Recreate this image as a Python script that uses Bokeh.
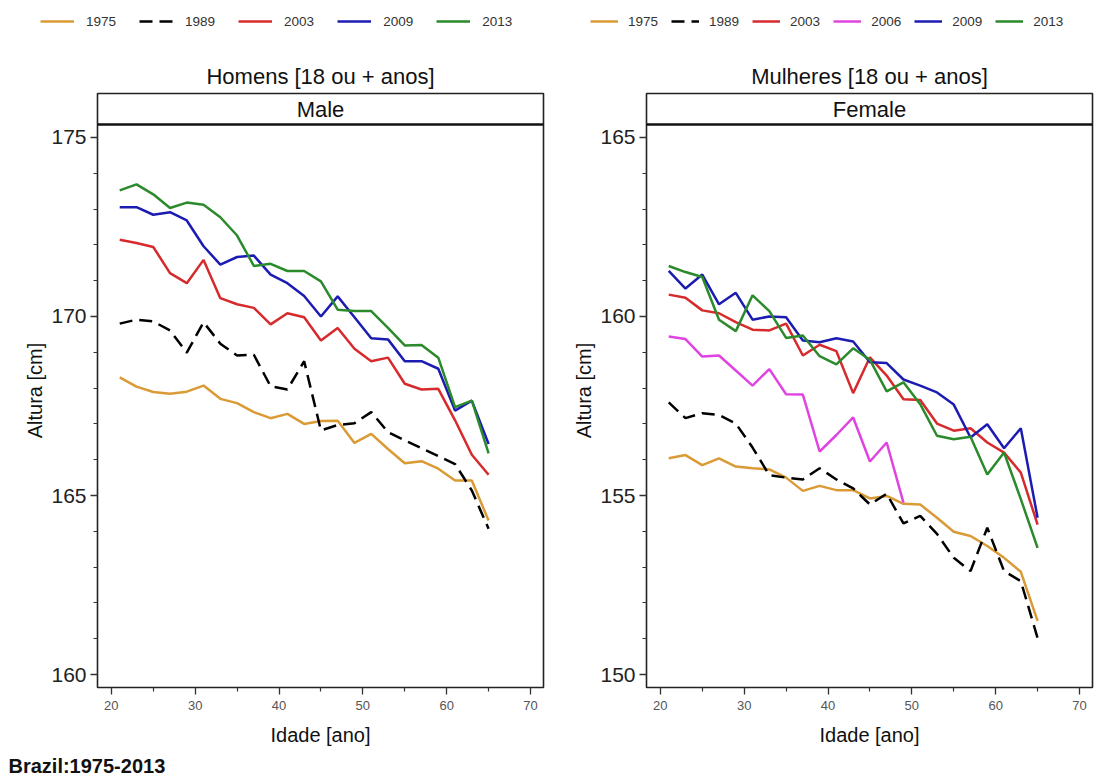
from bokeh.plotting import figure
from bokeh.models import Range1d, FixedTicker, Legend, LegendItem, Label, Span
from bokeh.layouts import row, column
from bokeh.embed import file_html
from bokeh.resources import INLINE

ages = [21, 23, 25, 27, 29, 31, 33, 35, 37, 39, 41, 43, 45, 47, 49, 51, 53, 55, 57, 59, 61, 63, 65]
ages_2006 = [21, 23, 25, 27, 29, 31, 33, 35, 37, 39, 41, 43, 45, 47, 49]

male_1975 = [168.30, 168.04, 167.89, 167.84, 167.90, 168.07, 167.70, 167.58, 167.33, 167.16, 167.28, 167.00,
             167.08, 167.09, 166.47, 166.72, 166.30, 165.90, 165.96, 165.75, 165.42, 165.42, 164.30]
male_1989 = [169.80, 169.91, 169.86, 169.61, 168.99, 169.84, 169.24, 168.91, 168.93, 168.05, 167.96, 168.75,
             166.82, 166.97, 167.02, 167.33, 166.77, 166.54, 166.32, 166.10, 165.88, 165.14, 164.07]
male_2003 = [172.14, 172.05, 171.94, 171.21, 170.93, 171.58, 170.51, 170.34, 170.24, 169.78, 170.09, 169.98,
             169.33, 169.68, 169.10, 168.75, 168.85, 168.12, 167.96, 167.98, 167.10, 166.14, 165.58]
male_2009 = [173.05, 173.05, 172.84, 172.91, 172.68, 171.96, 171.45, 171.66, 171.70, 171.17, 170.93, 170.57,
             170.00, 170.56, 169.98, 169.39, 169.36, 168.75, 168.75, 168.54, 167.37, 167.65, 166.44]
male_2013 = [173.52, 173.69, 173.41, 173.03, 173.18, 173.12, 172.77, 172.26, 171.41, 171.47, 171.27, 171.27,
             170.98, 170.19, 170.15, 170.15, 169.68, 169.19, 169.20, 168.85, 167.47, 167.65, 166.18]

female_1975 = [156.04, 156.13, 155.85, 156.04, 155.81, 155.76, 155.73, 155.50, 155.13, 155.27, 155.15, 155.15,
               154.92, 154.99, 154.77, 154.75, 154.38, 153.99, 153.87, 153.59, 153.26, 152.87, 151.50]
female_1989 = [157.60, 157.16, 157.30, 157.25, 157.01, 156.34, 155.57, 155.50, 155.45, 155.76, 155.45, 155.20,
               154.75, 155.05, 154.22, 154.43, 153.93, 153.26, 152.89, 154.10, 152.89, 152.61, 151.02]
female_2003 = [160.61, 160.52, 160.17, 160.09, 159.84, 159.63, 159.61, 159.80, 158.91, 159.21, 159.03, 157.86,
               158.86, 158.35, 157.69, 157.67, 157.01, 156.81, 156.88, 156.48, 156.20, 155.64, 154.19]
female_2006 = [159.44, 159.37, 158.88, 158.91, 158.49, 158.07, 158.53, 157.83, 157.82, 156.23, 156.69, 157.18,
               155.95, 156.48, 154.80]
female_2009 = [161.27, 160.78, 161.17, 160.34, 160.66, 159.91, 160.00, 159.98, 159.33, 159.28, 159.39, 159.30,
               158.72, 158.70, 158.24, 158.07, 157.88, 157.54, 156.62, 156.99, 156.32, 156.88, 154.38]
female_2013 = [161.41, 161.24, 161.10, 159.91, 159.59, 160.59, 160.15, 159.40, 159.47, 158.89, 158.66, 159.11,
               158.79, 157.91, 158.16, 157.55, 156.67, 156.57, 156.64, 155.59, 156.20, 154.90, 153.54]

x_ticks = [20, 30, 40, 50, 60, 70]
x_minor = [25, 35, 45, 55, 65]
male_ticks = [160, 165, 170, 175]
female_ticks = [150, 155, 160, 165]

COLORS = {"1975": "#DA9A36", "1989": "#000000", "2003": "#D62A2C",
          "2006": "#E044E0", "2009": "#1C1CB2", "2013": "#2B8A2B"}

FONT = "Liberation Sans"
FRAME_W, FRAME_H = 446, 594
STRIP_H = 31
HEADER_H = 91
TOP_B = 2
BOTTOM_B = 62
FOOTER_H = 27


def dash_of(name):
    return "13 7" if name == "1989" else "solid"


def make_header(width, title, title_x, series, leg_x, glyph_w, standoff, spacing):
    h = figure(width=width, height=HEADER_H, output_backend="svg", toolbar_location=None,
               x_range=Range1d(0, 1), y_range=Range1d(0, 1), x_axis_type=None, y_axis_type=None,
               min_border_left=0, min_border_right=0, min_border_top=0, min_border_bottom=0)
    h.grid.visible = False
    h.outline_line_color = None
    items = []
    for name, xs, ys in series:
        # same series drawn outside this header's visible range: only used as legend samples
        r = h.line(xs, ys, line_color=COLORS[name], line_width=2.5, line_dash=dash_of(name))
        items.append(LegendItem(label=name, renderers=[r]))
    leg = Legend(items=items, orientation="horizontal", location=(leg_x, HEADER_H - 29),
                 glyph_width=glyph_w, glyph_height=16, label_standoff=standoff, spacing=spacing,
                 padding=0, margin=0, border_line_color=None, background_fill_alpha=0,
                 label_text_font=FONT, label_text_font_size="13.5px", label_text_color="#333333")
    h.add_layout(leg)
    h.add_layout(Label(x=title_x, y=HEADER_H - 76, x_units="screen", y_units="screen",
                       text=title, text_align="center", text_baseline="middle",
                       text_font=FONT, text_font_size="22px", text_color="#111111"))
    return h


def make_panel(strip, ticks, series, width, mb_left, mb_right):
    y_lo = ticks[0] - 0.36
    y_axis_hi = ticks[-1] + 0.36
    per_px = (y_axis_hi - y_lo) / (FRAME_H - STRIP_H)
    y_hi = y_axis_hi + STRIP_H * per_px

    p = figure(width=width, height=TOP_B + FRAME_H + BOTTOM_B, output_backend="svg", toolbar_location=None,
               x_range=Range1d(18.35, 71.55), y_range=Range1d(y_lo, y_hi),
               min_border_left=mb_left, min_border_right=mb_right,
               min_border_top=TOP_B, min_border_bottom=BOTTOM_B)
    p.xgrid.visible = False
    p.ygrid.visible = False
    p.outline_line_color = "#222222"
    p.outline_line_width = 1.6

    p.xaxis.ticker = FixedTicker(ticks=x_ticks, minor_ticks=x_minor)
    p.yaxis.ticker = FixedTicker(ticks=ticks, minor_ticks=list(range(ticks[0], ticks[-1] + 1)))
    for ax in (p.xaxis, p.yaxis):
        ax.axis_line_color = None
        ax.major_tick_in = 0
        ax.minor_tick_in = 0
        ax.major_tick_out = 7
        ax.minor_tick_out = 4
        ax.major_tick_line_color = "#333333"
        ax.minor_tick_line_color = "#333333"
        ax.major_tick_line_width = 1.3
        ax.minor_tick_line_width = 1.2
        ax.axis_label_text_font = FONT
        ax.axis_label_text_font_style = "normal"
        ax.axis_label_text_font_size = "20px"
        ax.axis_label_text_color = "#111111"
        ax.major_label_text_font = FONT
    p.xaxis.axis_label = "Idade [ano]"
    p.xaxis.major_label_text_font_size = "13px"
    p.xaxis.major_label_text_color = "#555555"
    p.xaxis.major_label_standoff = 6
    p.xaxis.axis_label_standoff = 11
    p.yaxis.axis_label = "Altura [cm]"
    p.yaxis.major_label_text_font_size = "21px"
    p.yaxis.major_label_text_color = "#222222"
    p.yaxis.major_label_standoff = 4
    p.yaxis.axis_label_standoff = 2

    for name, xs, ys in series:
        p.line(xs, ys, line_color=COLORS[name], line_width=2.5, line_dash=dash_of(name))

    # facet strip inside the top of the frame
    p.add_layout(Span(location=y_axis_hi, dimension="width", line_color="#111111", line_width=2.5))
    p.add_layout(Label(x=FRAME_W / 2, y=FRAME_H - STRIP_H / 2, x_units="screen", y_units="screen",
                       text=strip, text_align="center", text_baseline="middle",
                       text_font=FONT, text_font_size="22px", text_color="#111111"))
    return p


male_series = [("1975", ages, male_1975), ("1989", ages, male_1989), ("2003", ages, male_2003),
               ("2009", ages, male_2009), ("2013", ages, male_2013)]
female_series = [("1975", ages, female_1975), ("1989", ages, female_1989), ("2003", ages, female_2003),
                 ("2006", ages_2006, female_2006), ("2009", ages, female_2009), ("2013", ages, female_2013)]

LEFT_W, RIGHT_W = 565, 535

head_l = make_header(LEFT_W, "Homens [18 ou + anos]", 97 + FRAME_W / 2, male_series,
                     leg_x=40, glyph_w=34, standoff=12, spacing=23)
head_r = make_header(RIGHT_W, "Mulheres [18 ou + anos]", 81 + FRAME_W / 2, female_series,
                     leg_x=25, glyph_w=28, standoff=10, spacing=13)
left = make_panel("Male", male_ticks, male_series, width=LEFT_W, mb_left=97, mb_right=LEFT_W - 97 - FRAME_W)
right = make_panel("Female", female_ticks, female_series, width=RIGHT_W, mb_left=81,
                   mb_right=RIGHT_W - 81 - FRAME_W)

foot = figure(width=LEFT_W, height=FOOTER_H, output_backend="svg", toolbar_location=None,
              x_range=Range1d(0, 1), y_range=Range1d(0, 1), x_axis_type=None, y_axis_type=None,
              min_border_left=0, min_border_right=0, min_border_top=0, min_border_bottom=0)
foot.grid.visible = False
foot.outline_line_color = None
foot.add_layout(Label(x=8, y=FOOTER_H - 16, x_units="screen", y_units="screen",
                      text="Brazil:1975-2013", text_align="left", text_baseline="middle",
                      text_font=FONT, text_font_size="20px", text_font_style="bold",
                      text_color="#111111"))

layout = column(row(head_l, head_r), row(left, right), foot)
open("out.html", "w").write(file_html(layout, INLINE))
